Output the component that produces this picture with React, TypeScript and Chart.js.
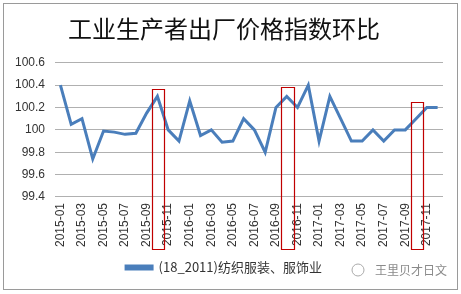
import React, { useEffect, useRef } from "react";
import { Chart, registerables } from "chart.js";

Chart.register(...registerables);

const months = [
  "2015-01", "2015-02", "2015-03", "2015-04", "2015-05", "2015-06",
  "2015-07", "2015-08", "2015-09", "2015-10", "2015-11", "2015-12",
  "2016-01", "2016-02", "2016-03", "2016-04", "2016-05", "2016-06",
  "2016-07", "2016-08", "2016-09", "2016-10", "2016-11", "2016-12",
  "2017-01", "2017-02", "2017-03", "2017-04", "2017-05", "2017-06",
  "2017-07", "2017-08", "2017-09", "2017-10", "2017-11", "2017-12",
];

const values = [
  100.4, 100.05, 100.1, 99.74, 99.99, 99.98,
  99.96, 99.97, 100.15, 100.3, 100.0, 99.9,
  100.26, 99.95, 100.0, 99.89, 99.9, 100.1,
  100.0, 99.8, 100.2, 100.3, 100.2, 100.4,
  99.9, 100.3, 100.1, 99.9, 99.9, 100.0,
  99.9, 100.0, 100.0, 100.1, 100.2, 100.2,
];

const seriesName = "(18_2011)纺织服装、服饰业";
const titleText = "工业生产者出厂价格指数环比";
const watermarkText = "王里贝才日文";

// highlighted months (red boxes) and the value at the top of each box
const highlightMonths = ["2015-10", "2016-10", "2017-10"];
const highlightTops = [100.37, 100.38, 100.25];

const yMin = 99.4;
const yMax = 100.6;
const yStep = 0.2;

const boxesPlugin = {
  id: "boxes",
  afterDatasetsDraw(chart: any) {
    const { ctx, scales, chartArea } = chart;
    const xs = scales.x;
    const ys = scales.y;
    const step = xs.getPixelForValue(1) - xs.getPixelForValue(0);
    ctx.save();
    highlightMonths.forEach((m, i) => {
      const idx = months.indexOf(m);
      const cx = xs.getPixelForValue(idx);
      const left = Math.round(cx - step * 0.5) + 0.5;
      const right = Math.round(cx + step * 0.65) + 0.5;
      const top = Math.round(ys.getPixelForValue(highlightTops[i])) + 0.5;
      const bottom = Math.round(chartArea.bottom + 52) + 0.5;
      ctx.beginPath();
      ctx.rect(left, top, right - left, bottom - top);
      ctx.lineWidth = 1.2;
      ctx.strokeStyle = "#C00000";
      ctx.stroke();
    });
    ctx.restore();
  },
  afterDraw(chart: any) {
    const { ctx, width, height } = chart;
    ctx.save();
    ctx.fillStyle = "#8a8a8a";
    ctx.strokeStyle = "#aaaaaa";
    ctx.lineWidth = 1;
    const y = height - 24;
    ctx.beginPath();
    ctx.arc(width - 103, y, 6, 0, Math.PI * 2);
    ctx.stroke();
    ctx.font = "12px 'Noto Sans CJK SC'";
    ctx.textBaseline = "middle";
    ctx.textAlign = "left";
    ctx.fillText(watermarkText, width - 86, y);
    ctx.restore();
  },
};

export default function App() {
  const ref = useRef<HTMLCanvasElement>(null);
  useEffect(() => {
    document.body.style.margin = "0";
    const chart = new Chart(ref.current!, {
      type: "line",
      data: {
        labels: months,
        datasets: [
          {
            label: seriesName,
            data: values,
            borderColor: "#4A7EBB",
            backgroundColor: "#4A7EBB",
            borderWidth: 3,
            pointRadius: 0,
            tension: 0,
          },
        ],
      },
      options: {
        animation: false,
        responsive: false,
        layout: { padding: { left: 5, right: 18, top: 8, bottom: 10 } },
        plugins: {
          title: {
            display: true,
            text: titleText,
            color: "#111",
            font: { family: "'Noto Sans CJK SC'", size: 24, weight: "normal" },
            padding: { top: 6, bottom: 20 },
          },
          legend: {
            position: "bottom",
            labels: {
              boxWidth: 26,
              boxHeight: 3,
              color: "#333",
              font: { family: "'Noto Sans CJK SC'", size: 13 },
              padding: 8,
            },
          },
          tooltip: { enabled: false },
        },
        scales: {
          x: {
            offset: true,
            grid: { display: false, drawTicks: false },
            border: { display: false },
            ticks: {
              autoSkip: false,
              minRotation: 90,
              maxRotation: 90,
              padding: 6,
              color: "#333",
              font: { family: "'Liberation Sans', Arial", size: 12 },
              callback: (_v: any, i: number) => (i % 2 === 0 ? months[i] : ""),
            },
          },
          y: {
            min: yMin,
            max: yMax,
            grid: { color: "#b0b0b0", drawTicks: false },
            border: { display: false },
            ticks: {
              stepSize: yStep,
              padding: 10,
              color: "#333",
              font: { family: "'Liberation Sans', Arial", size: 12 },
              callback: (v: any) => String(Number(Number(v).toFixed(1))),
            },
          },
        },
      },
      plugins: [boxesPlugin],
    });
    return () => chart.destroy();
  }, []);
  return (
    <div style={{ position: "relative", width: 461, height: 294, background: "#fff" }}>
      <canvas ref={ref} width={461} height={294} style={{ position: "absolute", left: 0, top: 0 }} />
      <div
        style={{
          position: "absolute",
          left: 3,
          top: 3,
          width: 453,
          height: 285,
          border: "1px solid #9a9a9a",
          pointerEvents: "none",
        }}
      />
    </div>
  );
}
